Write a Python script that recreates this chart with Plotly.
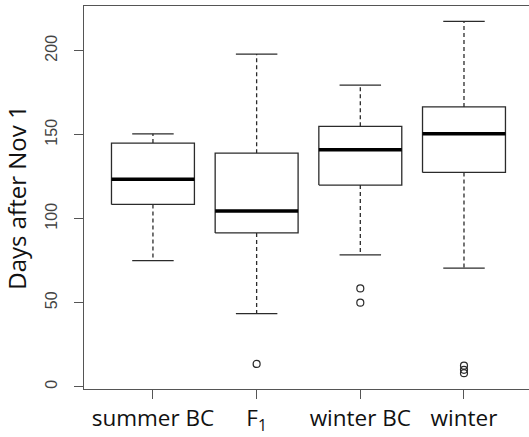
import plotly.graph_objects as go

categories = ["summer BC", "F<sub>1</sub>", "winter BC", "winter"]
lower_whisker = [75, 43.5, 78.5, 70.5]
q1 = [108.5, 91.5, 120, 127.5]
median = [123.5, 104.5, 141, 150.5]
q3 = [145, 139, 155, 166.5]
upper_whisker = [150.5, 198, 179.5, 217.5]
outliers = [[], [13.5], [58.5, 50], [12.5, 10, 8]]

ink = "#2b2b2b"
frame = "#555555"
half_box = 0.4
half_cap = 0.2

fig = go.Figure()
for i, cat in enumerate(categories):
    p = i + 1
    fig.add_trace(go.Scatter(x=[p, p, None, p, p],
                             y=[q3[i], upper_whisker[i], None, q1[i], lower_whisker[i]],
                             mode="lines", line=dict(color=ink, width=1.3, dash="4px,3px"),
                             hoverinfo="skip", showlegend=False))
    fig.add_trace(go.Scatter(x=[p - half_cap, p + half_cap, None, p - half_cap, p + half_cap],
                             y=[upper_whisker[i], upper_whisker[i], None, lower_whisker[i], lower_whisker[i]],
                             mode="lines", line=dict(color=ink, width=1.3),
                             hoverinfo="skip", showlegend=False))
    fig.add_trace(go.Scatter(x=[p - half_box, p + half_box, p + half_box, p - half_box, p - half_box],
                             y=[q1[i], q1[i], q3[i], q3[i], q1[i]],
                             mode="lines", line=dict(color=ink, width=1.3),
                             fill="toself", fillcolor="white",
                             hoverinfo="skip", showlegend=False))
    fig.add_trace(go.Scatter(x=[p - half_box, p + half_box], y=[median[i], median[i]],
                             mode="lines", line=dict(color="#000000", width=3.5),
                             hoverinfo="skip", showlegend=False))
    if outliers[i]:
        fig.add_trace(go.Scatter(x=[p] * len(outliers[i]), y=outliers[i], mode="markers",
                                 marker=dict(symbol="circle-open", size=7, color=ink,
                                             line=dict(width=1.2, color=ink)),
                                 hoverinfo="skip", showlegend=False))

fig.update_layout(
    width=529, height=437,
    margin=dict(l=84, r=0, t=6, b=48),
    plot_bgcolor="white", paper_bgcolor="white",
    font=dict(family="Open Sans", color="#000000"),
)
fig.update_xaxes(
    range=[0.335, 4.627], automargin=False,
    tickvals=[1, 2, 3, 4], ticktext=categories,
    showline=True, mirror=True, linecolor=frame, linewidth=1.3,
    ticks="outside", ticklen=9, tickcolor=frame, tickwidth=1.3,
    showgrid=False, zeroline=False,
    ticklabelstandoff=0,
    tickfont=dict(family="Open Sans", size=22.5, color="#111111"),
)
fig.update_yaxes(
    range=[-1.4, 226.6], automargin=False,
    tickvals=[0, 50, 100, 150, 200],
    showline=True, mirror=False, linecolor=frame, linewidth=1.3,
    ticks="outside", ticklen=9, tickcolor=frame, tickwidth=1.3,
    showgrid=False, zeroline=False,
    tickangle=-90,
    ticklabelstandoff=10,
    tickfont=dict(family="Liberation Sans", size=16, color="#444444"),
    title=dict(text="Days after Nov 1", font=dict(family="Open Sans", size=24, color="#111111"), standoff=12),
)

fig.write_html("out.html", config={"displayModeBar": False},
               post_script="document.body.style.margin='0';document.body.style.overflow='hidden';")
